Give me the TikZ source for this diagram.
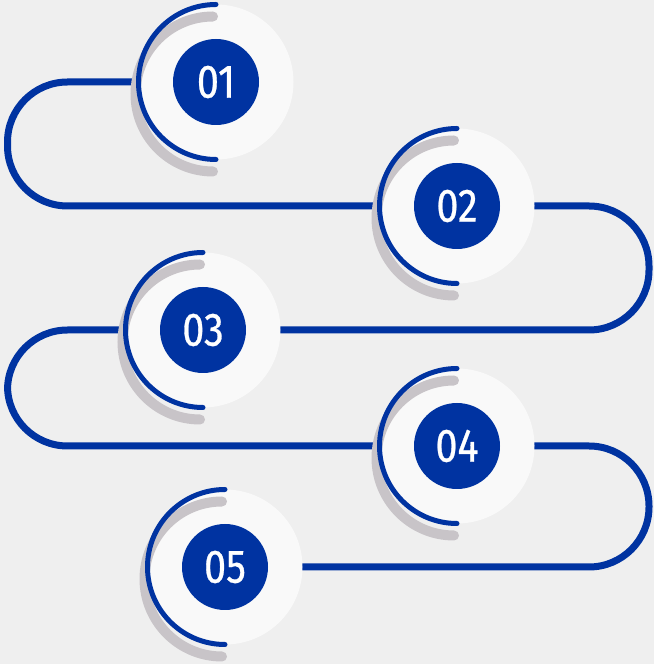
\documentclass[tikz,border=0pt]{standalone}
\usepackage{fontspec}
\usetikzlibrary{backgrounds,calc}
\newfontfamily\numfont[FakeStretch=0.84,FakeBold=0.6]{Fira Sans}
\definecolor{stepblue}{RGB}{0,51,161}
\definecolor{diskwhite}{RGB}{249,249,249}
\definecolor{pagegray}{RGB}{239,239,239}
\definecolor{shadegray}{RGB}{200,196,200}

\begin{document}
\begin{tikzpicture}[
    x=1pt, y=1pt,
    stepdisk/.style={circle, fill=diskwhite, minimum size=155pt, inner sep=0pt, outer sep=0pt,
        font=\numfont\fontsize{47}{47}\selectfont, text=white,
        path picture={\fill[stepblue] (path picture bounding box.center) circle[radius=43pt];}},
    railline/.style={draw=stepblue, line width=7pt, rounded corners=60pt},
    ringarc/.style={draw=stepblue, line width=5pt, line cap=round},
    shadearc/.style={draw=shadegray, line width=10pt, line cap=round}
]
    \useasboundingbox (0,0) rectangle (654,664);

    % steps
    \node (s1) [stepdisk] at (216,582) {01};
    \node (s2) [stepdisk] at (457,458) {02};
    \node (s3) [stepdisk] at (203,334) {03};
    \node (s4) [stepdisk] at (457,218) {04};
    \node (s5) [stepdisk] at (225,97) {05};

    % shadow and ring on the left side of each step
    \draw[shadearc] ([shift={(-3pt,-12pt)}]s1.north) arc[start angle=90, end angle=270, radius=77.5pt];
    \draw[shadearc] ([shift={(-3pt,-12pt)}]s2.north) arc[start angle=90, end angle=270, radius=77.5pt];
    \draw[shadearc] ([shift={(-3pt,-12pt)}]s3.north) arc[start angle=90, end angle=270, radius=77.5pt];
    \draw[shadearc] ([shift={(-3pt,-12pt)}]s4.north) arc[start angle=90, end angle=270, radius=77.5pt];
    \draw[shadearc] ([shift={(-3pt,-12pt)}]s5.north) arc[start angle=90, end angle=270, radius=77.5pt];

    \draw[ringarc] (s1.north) arc[start angle=90, end angle=270, radius=77.5pt];
    \draw[ringarc] (s2.north) arc[start angle=90, end angle=270, radius=77.5pt];
    \draw[ringarc] (s3.north) arc[start angle=90, end angle=270, radius=77.5pt];
    \draw[ringarc] (s4.north) arc[start angle=90, end angle=270, radius=77.5pt];
    \draw[ringarc] (s5.north) arc[start angle=90, end angle=270, radius=77.5pt];

    % the winding rail behind the steps
    \coordinate (leftrail) at (7.5,0);
    \coordinate (rightrail) at (649,0);
    \begin{scope}[on background layer]
        \fill[pagegray] (0,0) rectangle (654,664);
        \draw[railline] (s1.center) -- (s1.center -| leftrail) -- (s2.center -| leftrail) -- (s2.center);
        \draw[railline] (s2.center) -- (s2.center -| rightrail) -- (s3.center -| rightrail) -- (s3.center);
        \draw[railline] (s3.center) -- (s3.center -| leftrail) -- (s4.center -| leftrail) -- (s4.center);
        \draw[railline] (s4.center) -- (s4.center -| rightrail) -- (s5.center -| rightrail) -- (s5.center);
    \end{scope}
\end{tikzpicture}
\end{document}
